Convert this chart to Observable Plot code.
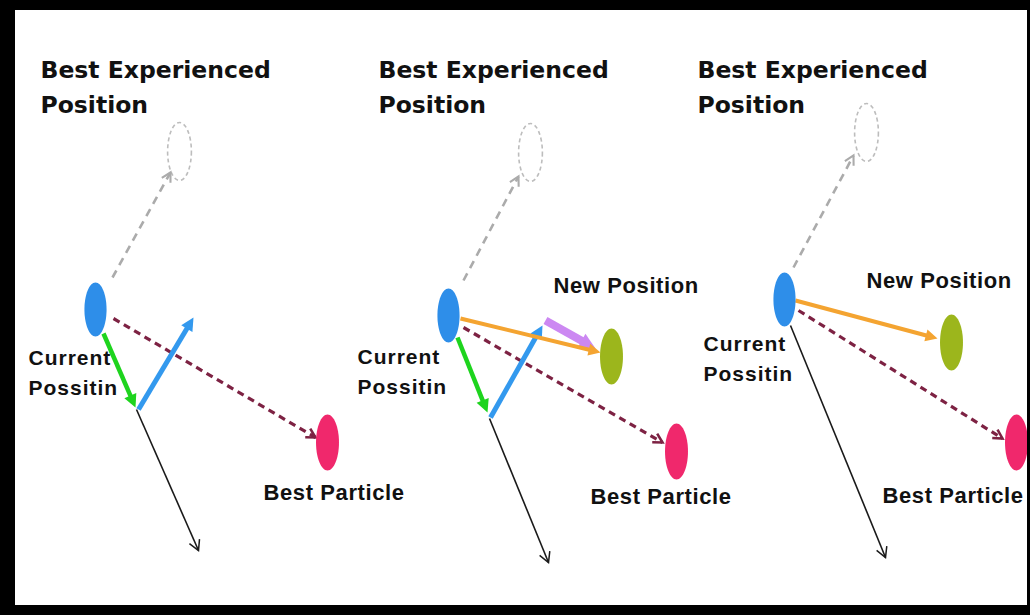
<!DOCTYPE html>
<html>
<head>
<meta charset="utf-8">
<script src="https://cdn.jsdelivr.net/npm/d3@7"></script>
<script src="https://cdn.jsdelivr.net/npm/@observablehq/plot@0.6"></script>
<style>
  html, body { margin: 0; padding: 0; background: #fff; }
  #wrap { position: relative; width: 1030px; height: 615px; background: #000; overflow: hidden; }
  #wrap svg { position: absolute; left: 15px; top: 10px; background: #fff; }
  #wrap g[font-size="21"] text { letter-spacing: 1px; }
  #wrap g[font-size="22"] text { letter-spacing: 0.6px; }
</style>
</head>
<body>
<div id="wrap"></div>
<script>
// ---- data (pixel-space coordinates of the diagram) ----
const headingX = [40, 378, 697];
const headingLines = ["Best Experienced", "Position"];
const headingBaselines = [77, 112];

const currentLabelX = [28, 357, 703];
const currentLabelY = [364, 363, 350];
const currentLines = ["Current", "Possitin"];

const newPosLabelX = [553, 866];
const newPosLabelY = [292, 287];
const bestParticleLabelX = [263, 590, 882];
const bestParticleLabelY = [499, 503, 502];

// ellipse centres [x, y]
const currentPos = [[95, 309], [448, 315], [784, 299]];
const bestExperienced = [[179, 151], [530, 152], [866, 132]];
const bestParticle = [[327, 442], [676, 451], [1016, 442]];
const newPos = [[611, 356], [951, 342]];

// vectors [x1, y1, x2, y2]
const toBestExperienced = [[112, 277, 170, 172], [463, 280, 518, 176], [793, 267, 853, 155]];
const toBestParticle = [[113, 318, 315, 437], [463, 327, 662, 442], [798, 310, 1002, 438]];
const inertiaVec = [[103, 333, 135, 407], [457, 337, 487, 412]];
const cognitiveVec = [[138, 409, 193, 317], [490, 417, 542, 325]];
const resultVec = [[136, 409, 198, 550], [489, 418, 548, 562], [790, 325, 885, 557]];
const velocityVec = [[460, 318, 600, 352], [795, 300, 937, 338]];
const moveVec = [[545, 320, 595, 348]];

// ---- symbols ----
const ellipseSymbol = {
  draw(ctx, size) {
    const ry = Math.sqrt(size / Math.PI), rx = ry * 0.41, k = 0.5523;
    ctx.moveTo(rx, 0);
    ctx.bezierCurveTo(rx, k * ry, k * rx, ry, 0, ry);
    ctx.bezierCurveTo(-k * rx, ry, -rx, k * ry, -rx, 0);
    ctx.bezierCurveTo(-rx, -k * ry, -k * rx, -ry, 0, -ry);
    ctx.bezierCurveTo(k * rx, -ry, rx, -k * ry, rx, 0);
    ctx.closePath();
  }
};
const headSymbol = {
  draw(ctx, size) {
    const L = Math.sqrt(size / Math.PI), w = L * 0.5;
    ctx.moveTo(0, 0); ctx.lineTo(w, L); ctx.lineTo(-w, L); ctx.closePath();
  }
};
const chevronSymbol = {
  draw(ctx, size) {
    const L = Math.sqrt(size / Math.PI), w = L * 0.55;
    ctx.moveTo(-w, L); ctx.lineTo(0, 0); ctx.lineTo(w, L);
  }
};

const angle = v => Math.atan2(v[2] - v[0], -(v[3] - v[1])) * 180 / Math.PI;
// shorten shaft so the head tip stays sharp
const shorten = (v, by) => {
  const dx = v[2] - v[0], dy = v[3] - v[1], len = Math.hypot(dx, dy);
  return [v[0], v[1], v[2] - dx / len * by, v[3] - dy / len * by];
};

function solidArrow(vecs, color, width, head) {
  return [
    Plot.link(vecs.map(v => shorten(v, head * 0.8)), {x1: d => d[0], y1: d => d[1], x2: d => d[2], y2: d => d[3], stroke: color, strokeWidth: width}),
    Plot.dot(vecs, {x: d => d[2], y: d => d[3], r: head, symbol: headSymbol, rotate: angle, fill: color, stroke: "none"})
  ];
}
function lineArrow(vecs, color, width, head, dash) {
  return [
    Plot.link(vecs, {x1: d => d[0], y1: d => d[1], x2: d => d[2], y2: d => d[3], stroke: color, strokeWidth: width, strokeDasharray: dash || null}),
    Plot.dot(vecs, {x: d => d[2], y: d => d[3], r: head, symbol: chevronSymbol, rotate: angle, fill: "none", stroke: color, strokeWidth: Math.max(1.5, width * 0.8)})
  ];
}

const headingRows = headingX.flatMap(x => headingLines.map((t, i) => ({x, y: headingBaselines[i], t})));
const currentRows = currentLabelX.flatMap((x, p) => currentLines.map((t, i) => ({x, y: currentLabelY[p] + i * 30, t})));
const newRows = newPosLabelX.map((x, i) => ({x, y: newPosLabelY[i], t: "New Position"}));
const bestRows = bestParticleLabelX.map((x, i) => ({x, y: bestParticleLabelY[i], t: "Best Particle"}));

const chart = Plot.plot({
  width: 1012,
  height: 595,
  marginTop: 0, marginRight: 0, marginBottom: 0, marginLeft: 0,
  x: {domain: [15, 1027], range: [0, 1012], axis: null},
  y: {domain: [10, 605], range: [0, 595], axis: null},
  marks: [
    // dashed "best experienced" ellipses
    Plot.dot(bestExperienced, {x: d => d[0], y: d => d[1], r: 29, symbol: ellipseSymbol, fill: "none", stroke: "#bdbdbd", strokeWidth: 1.6, strokeDasharray: "4,3"}),
    ...lineArrow(toBestExperienced, "#ababab", 2.6, 9, "8,6"),
    ...lineArrow(toBestParticle, "#7d2243", 3.2, 9, "7,5"),
    ...lineArrow(resultVec, "#1a1a1a", 1.6, 10),
    ...solidArrow(inertiaVec, "#1ed41e", 4.5, 13),
    ...solidArrow(cognitiveVec, "#3399ee", 5, 13),
    ...solidArrow(moveVec, "#cc88f2", 8, 16),
    ...solidArrow(velocityVec, "#f4a431", 4, 12),
    Plot.dot(currentPos, {x: d => d[0], y: d => d[1], r: 27, symbol: ellipseSymbol, fill: "#2e8ee9"}),
    Plot.dot(newPos, {x: d => d[0], y: d => d[1], r: 28, symbol: ellipseSymbol, fill: "#9cb61c"}),
    Plot.dot(bestParticle, {x: d => d[0], y: d => d[1], r: 28, symbol: ellipseSymbol, fill: "#f0286c"}),
    Plot.text(headingRows, {x: "x", y: "y", text: "t", textAnchor: "start", lineAnchor: "bottom", fontSize: 23.5, fontWeight: "bold", fontFamily: "DejaVu Sans", fill: "#111"}),
    Plot.text(currentRows, {x: "x", y: "y", text: "t", textAnchor: "start", lineAnchor: "bottom", fontSize: 21, fontWeight: "bold", fontFamily: "Liberation Sans, Arial, sans-serif", fill: "#111"}),
    Plot.text(newRows.concat(bestRows), {x: "x", y: "y", text: "t", textAnchor: "start", lineAnchor: "bottom", fontSize: 22, fontWeight: "bold", fontFamily: "Liberation Sans, Arial, sans-serif", fill: "#111"})
  ]
});
document.getElementById("wrap").appendChild(chart);
</script>
</body>
</html>
